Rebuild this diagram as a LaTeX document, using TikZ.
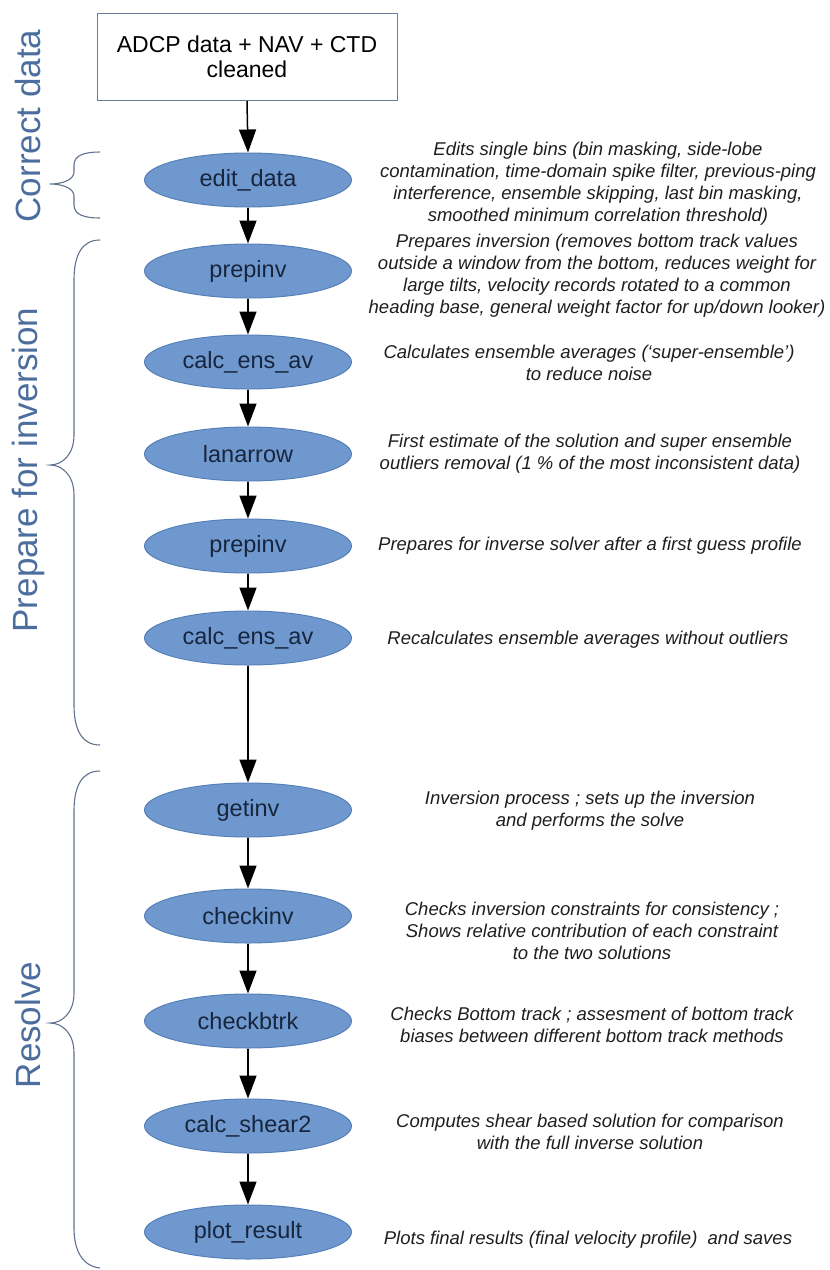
\documentclass[tikz,border=0pt]{standalone}
\usepackage{fontspec}
\setmainfont{Liberation Sans}
\usetikzlibrary{arrows.meta,shapes.geometric}
\definecolor{ellfill}{HTML}{6F98CE}
\definecolor{elldraw}{HTML}{5680B8}
\definecolor{elltext}{HTML}{17253D}
\definecolor{sidecol}{HTML}{4C6E9E}
\definecolor{bracecol}{HTML}{60728E}
\definecolor{desccol}{HTML}{1E1E1E}
\definecolor{boxdraw}{HTML}{6A7C98}
\begin{document}
\begin{tikzpicture}[x=1pt,y=-1pt,
  srcbox/.style={draw=boxdraw,line width=1pt,fill=white,minimum width=300pt,minimum height=87pt,align=center,inner sep=0pt,font=\fontsize{23}{26}\selectfont,text=black},
  proc/.style={ellipse,draw=elldraw,line width=1pt,fill=ellfill,minimum width=207pt,minimum height=54pt,inner sep=0pt,font=\fontsize{23.5}{26}\selectfont,text=elltext},
  desc/.style={align=center,inner sep=0pt,font=\fontsize{18.5}{22}\selectfont\itshape,text=desccol},
  side/.style={rotate=90,inner sep=0pt,font=\fontsize{35}{38}\selectfont,text=sidecol},
  arr/.style={line width=1.5pt,black,-{Triangle[width=17pt,length=23pt]}},
  bracestyle/.style={draw=bracecol,line width=1.1pt}]
\useasboundingbox (0,0) rectangle (830,1270);

% source box
\node[srcbox] (src) at (247,57) {ADCP data + NAV + CTD\\[-1pt]cleaned};

% process ellipses
\node[proc] (n1) at (248,180) {edit\_data};
\node[proc] (n2) at (248,271) {prepinv};
\node[proc] (n3) at (248,362) {calc\_ens\_av};
\node[proc] (n4) at (248,454) {lanarrow};
\node[proc] (n5) at (248,546) {prepinv};
\node[proc] (n6) at (248,638) {calc\_ens\_av};
\node[proc] (n7) at (248,810) {getinv};
\node[proc] (n8) at (248,916) {checkinv};
\node[proc] (n9) at (248,1021) {checkbtrk};
\node[proc] (n10) at (248,1126) {calc\_shear2};
\node[proc] (n11) at (248,1232) {plot\_result};

% arrows
\draw[arr] (src.south) -- (n1.north);
\draw[arr] (n1.south) -- (n2.north);
\draw[arr] (n2.south) -- (n3.north);
\draw[arr] (n3.south) -- (n4.north);
\draw[arr] (n4.south) -- (n5.north);
\draw[arr] (n5.south) -- (n6.north);
\draw[arr] (n6.south) -- (n7.north);
\draw[arr] (n7.south) -- (n8.north);
\draw[arr] (n8.south) -- (n9.north);
\draw[arr] (n9.south) -- (n10.north);
\draw[arr] (n10.south) -- (n11.north);

% descriptions
\node[desc] (d1) at (598,184) {Edits single bins (bin masking, side-lobe\\contamination, time-domain spike filter, previous-ping\\interference, ensemble skipping, last bin masking,\\smoothed minimum correlation threshold)};
\node[desc] (d2) at (597,276) {Prepares inversion (removes bottom track values\\outside a window from the bottom, reduces weight for\\large tilts, velocity records rotated to a common\\heading base, general weight factor for up/down looker)};
\node[desc] (d3) at (589,363) {Calculates ensemble averages (‘super-ensemble’)\\to reduce noise};
\node[desc] (d4) at (590,454) {First estimate of the solution and super ensemble\\outliers removal (1 \% of the most inconsistent data)};
\node[desc] (d5) at (590,546) {Prepares for inverse solver after a first guess profile};
\node[desc] (d6) at (588,640) {Recalculates ensemble averages without outliers};
\node[desc] (d7) at (590,811) {Inversion process ; sets up the inversion\\and performs the solve};
\node[desc] (d8) at (592,931) {Checks inversion constraints for consistency ;\\Shows relative contribution of each constraint\\to the two solutions};
\node[desc] (d9) at (592,1025) {Checks Bottom track ; assesment of bottom track\\biases between different bottom track methods};
\node[desc] (d10) at (590,1132) {Computes shear based solution for comparison\\with the full inverse solution};
\node[desc] (d11) at (588,1240) {Plots final results (final velocity profile)\ \ and saves};

% side labels
\node[side] (s1) at (28,126) {Correct data};
\node[side] (s2) at (28,470) {Prepare for inversion};
\node[side] (s3) at (28,1025) {Resolve};

% braces
\draw[bracestyle] (100,152) .. controls (85,152) and (74,155) .. (74,165) -- (74,172) .. controls (74,180) and (62,184) .. (50,184) .. controls (62,184) and (74,188) .. (74,196) -- (74,205) .. controls (74,215) and (85,218) .. (100,218);
\draw[bracestyle] (100,240) .. controls (82,240) and (74,255) .. (74,280) -- (74,435) .. controls (74,455) and (62,465) .. (50,465) .. controls (62,465) and (74,475) .. (74,495) -- (74,705) .. controls (74,730) and (82,745) .. (100,745);
\draw[bracestyle] (100,771) .. controls (82,771) and (74,786) .. (74,811) -- (74,993) .. controls (74,1013) and (62,1023) .. (50,1023) .. controls (62,1023) and (74,1033) .. (74,1053) -- (74,1228) .. controls (74,1250) and (82,1266) .. (100,1268);
\end{tikzpicture}
\end{document}
